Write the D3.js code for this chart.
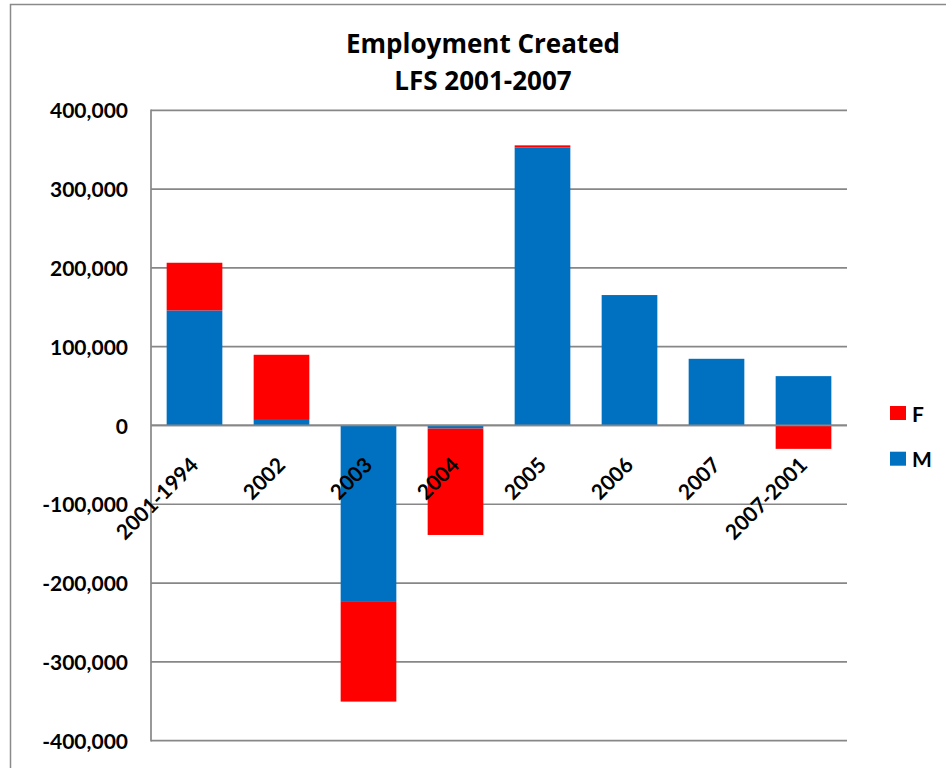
<!DOCTYPE html>
<html>
<head>
<meta charset="utf-8">
<script src="https://cdn.jsdelivr.net/npm/d3@7"></script>
<style>
  html, body { margin: 0; padding: 0; background: #fff; }
  svg { display: block; }
</style>
</head>
<body>
<svg id="chart" width="946" height="768"></svg>
<script>
const categories = ["2001-1994", "2002", "2003", "2004", "2005", "2006", "2007", "2007-2001"];
const seriesKeys = ["M", "F"];
const maleValues   = [146000, 7000, -223000, -4000, 353000, 165500, 84600, 62600];
const femaleValues = [60500, 82700, -127500, -135000, 2500, 0, 0, -29700];
const yTicks = [-400000, -300000, -200000, -100000, 0, 100000, 200000, 300000, 400000];
const titleLines = ["Employment Created", "LFS 2001-2007"];
const colors = { M: "#0070C0", F: "#FF0000" };

const data = categories.map((c, i) => ({ cat: c, M: maleValues[i], F: femaleValues[i] }));

const svg = d3.select("#chart")
  .style("font-family", "Lato, 'Open Sans', sans-serif")
  .style("font-weight", "bold");
const W = 946, H = 768;
const plot = { left: 151, right: 847, top: 110.3, bottom: 740.6 };

// outer chart border
svg.append("path")
  .attr("d", `M10.5,${H + 2} L10.5,4.5 L${W + 2},4.5`)
  .attr("fill", "none")
  .attr("stroke", "#8a8a8a")
  .attr("stroke-width", 1.5);

const x = d3.scaleBand().domain(categories).range([plot.left, plot.right]).paddingInner(0.36).paddingOuter(0.18);
const y = d3.scaleLinear().domain([-400000, 400000]).range([plot.bottom, plot.top]);

// gridlines
svg.append("g").selectAll("line").data(yTicks).join("line")
  .attr("x1", plot.left).attr("x2", plot.right)
  .attr("y1", d => y(d)).attr("y2", d => y(d))
  .attr("stroke", "#878787").attr("stroke-width", 1.7);

// y axis labels
const yAxis = d3.axisLeft(y).tickValues(yTicks).tickSize(0).tickPadding(0)
  .tickFormat(d => d3.format(",")(d).replace("−", "-"));
const ga = svg.append("g").attr("transform", `translate(${plot.left - 23},0)`).call(yAxis);
ga.select(".domain").remove();
ga.attr("font-family", null).attr("font-size", null);
ga.selectAll("text")
  .style("font-size", "21px").style("font-family", "Lato, sans-serif").style("font-weight", "bold")
  .attr("fill", "#000").attr("dy", "0.36em");

// stacked bars
const stack = d3.stack().keys(seriesKeys).offset(d3.stackOffsetDiverging);
const stacked = stack(data);
svg.append("g").selectAll("g").data(stacked).join("g")
  .attr("fill", d => colors[d.key])
  .selectAll("rect").data(d => d).join("rect")
  .attr("x", d => x(d.data.cat))
  .attr("width", x.bandwidth())
  .attr("y", d => y(Math.max(d[0], d[1])))
  .attr("height", d => Math.abs(y(d[0]) - y(d[1])));

// left axis line and zero line
svg.append("line")
  .attr("x1", plot.left).attr("x2", plot.left)
  .attr("y1", plot.top - 0.8).attr("y2", plot.bottom + 0.8)
  .attr("stroke", "#878787").attr("stroke-width", 1.7);
svg.append("line")
  .attr("x1", plot.left).attr("x2", plot.right)
  .attr("y1", y(0)).attr("y2", y(0))
  .attr("stroke", "#878787").attr("stroke-width", 1.7);

// x labels rotated
svg.append("g").selectAll("text").data(categories).join("text")
  .attr("transform", d => `translate(${x(d) + x.bandwidth() / 2 + 5},${y(0) + 41}) rotate(-45)`)
  .attr("text-anchor", "end")
  .style("font-size", "21px")
  .attr("fill", "#000")
  .text(d => d);

// title
svg.append("g").selectAll("text").data(titleLines).join("text")
  .attr("x", 483).attr("y", (d, i) => 53 + i * 37)
  .attr("text-anchor", "middle")
  .style("font-family", "'Open Sans', sans-serif")
  .style("font-weight", "bold")
  .style("font-size", "26px")
  .attr("fill", "#000")
  .text(d => d);

// legend
const legendItems = ["F", "M"];
const lg = svg.append("g").selectAll("g").data(legendItems).join("g")
  .attr("transform", (d, i) => `translate(890,${406 + i * 45.7})`);
lg.append("rect").attr("width", 16).attr("height", 14).attr("fill", d => colors[d]);
lg.append("text").attr("x", 22).attr("y", 15.5).style("font-size", "21px").attr("fill", "#000").text(d => d);
</script>
</body>
</html>
